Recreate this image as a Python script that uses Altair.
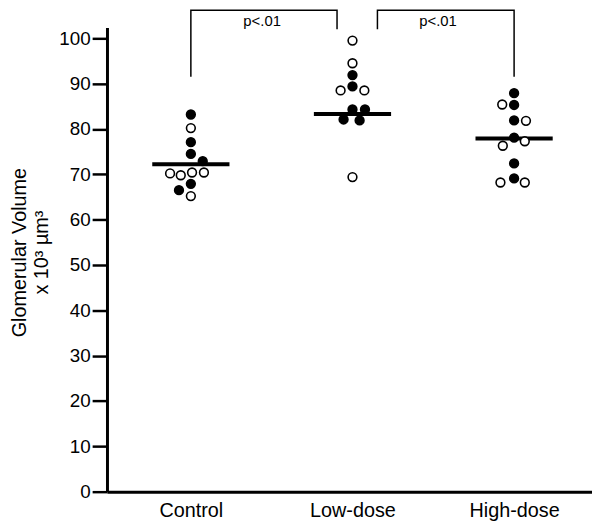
import altair as alt
import pandas as pd
import json

groups = ["Control", "Low-dose", "High-dose"]

control_vals = [83.2, 80.2, 77.1, 74.5, 72.9, 70.2, 69.8, 70.4, 70.4, 67.9, 66.5, 65.2]
control_kind = ["filled", "open", "filled", "filled", "filled", "open", "open", "open", "open", "filled", "filled", "open"]
control_slot = [0, 0, 0, 0, 1.0, -1.75, -0.85, 0.1, 1.1, 0, -1.0, 0]

low_vals = [99.5, 94.5, 91.9, 89.4, 88.5, 88.5, 84.3, 84.3, 82.1, 81.9, 69.4]
low_kind = ["open", "open", "filled", "filled", "open", "open", "filled", "filled", "filled", "filled", "open"]
low_slot = [0, 0, 0, 0, -1.0, 1.0, 0, 1.05, -0.75, 0.6, 0]

high_vals = [87.9, 85.4, 85.3, 81.9, 81.8, 78.1, 77.3, 76.3, 72.4, 69.1, 68.2, 68.2]
high_kind = ["filled", "open", "filled", "filled", "open", "filled", "open", "open", "filled", "filled", "open", "open"]
high_slot = [0, -1.0, 0, 0, 1.0, 0, 0.9, -0.95, 0, 0, -1.15, 0.9]

group_line = [72.2, 83.3, 77.9]

bracket_id = ["a", "a", "a", "a", "b", "b", "b", "b"]
bracket_group = ["Control", "Control", "Low-dose", "Low-dose", "Low-dose", "Low-dose", "High-dose", "High-dose"]
bracket_slot = [0, 0, -1.3, -1.3, 2.1, 2.1, 0, 0]
bracket_value = [91.5, 106.2, 106.2, 102.0, 102.0, 106.2, 106.2, 91.5]
bracket_order = [0, 1, 2, 3, 0, 1, 2, 3]

p_text = ["p<.01", "p<.01"]
p_group = ["Control", "Low-dose"]
p_slot = [6.0, 7.2]
p_value = [103.8, 103.8]

y_ticks = list(range(0, 101, 10))

FONT = "Liberation Sans"
SLOT_W = 0.0735      # one dot width, in category units
LINE_HALF = 3.25     # half length of the group line, in dot widths

points = pd.DataFrame({
    "group": ["Control"] * len(control_vals) + ["Low-dose"] * len(low_vals) + ["High-dose"] * len(high_vals),
    "value": control_vals + low_vals + high_vals,
    "kind": control_kind + low_kind + high_kind,
    "slot": control_slot + low_slot + high_slot,
})
lines = pd.DataFrame({"group": groups, "value": group_line, "slot": [-LINE_HALF] * len(groups)})
brackets = pd.DataFrame({"id": bracket_id, "group": bracket_group, "slot": bracket_slot,
                         "value": bracket_value, "ord": bracket_order})
ptxt = pd.DataFrame({"label": p_text, "group": p_group, "slot": p_slot, "value": p_value})

groups_js = json.dumps(groups)
pos_expr = f"indexof({groups_js}, datum.group) + datum.slot * {SLOT_W}"
pos2_expr = f"indexof({groups_js}, datum.group) - datum.slot * {SLOT_W}"

x_scale = alt.Scale(domain=[-0.519, 2.482], nice=False, zero=False)
y_scale = alt.Scale(domain=[0, 102.4], nice=False, zero=False)

x_enc = alt.X("xpos:Q", scale=x_scale,
              axis=alt.Axis(title=None, values=[0, 1, 2], labelExpr=f"{groups_js}[datum.value]",
                            labelAngle=0, labelFontSize=20, ticks=False, grid=False,
                            domain=True, domainColor="black", domainWidth=3,
                            labelPadding=9, labelColor="black", labelFont=FONT, labelFlush=False,
                            labelOverlap=False))
y_enc = alt.Y("value:Q", scale=y_scale,
              axis=alt.Axis(values=y_ticks, grid=False, domain=True, domainColor="black", domainWidth=3,
                            tickSize=15, tickWidth=2.5,
                            tickColor="black", labelFontSize=19, labelColor="black", labelFont=FONT,
                            labelPadding=2, labelFlush=False,
                            title=["Glomerular Volume", "x 10³ µm³"], titleFont=FONT, titleFontSize=20,
                            titleFontWeight="normal", titleColor="black", titleAngle=-90,
                            titleAlign="center", titleBaseline="alphabetic", titleLineHeight=22,
                            titleX=-82, titleY=227))


def base(df):
    return alt.Chart(df).transform_calculate(xpos=pos_expr)


line_layer = base(lines).transform_calculate(xpos2=pos2_expr).mark_rule(
    color="black", strokeWidth=4).encode(x=x_enc, x2="xpos2:Q", y=y_enc)

pt_layer = base(points).mark_point(shape="circle", filled=True, stroke="black", strokeWidth=1.6,
                                   size=78, opacity=1).encode(
    x=x_enc, y=y_enc,
    fill=alt.Fill("kind:N", scale=alt.Scale(domain=["filled", "open"], range=["black", "white"]), legend=None),
)

br_layer = base(brackets).mark_line(color="black", strokeWidth=1.5).encode(
    x=x_enc, y=y_enc, detail="id:N", order="ord:Q")

tx_layer = base(ptxt).mark_text(font=FONT, fontSize=15, color="black", baseline="middle", align="center").encode(
    x=x_enc, y=y_enc, text="label:N")

chart = alt.layer(line_layer, br_layer, tx_layer, pt_layer).properties(
    width=490, height=469,
    autosize=alt.AutoSizeParams(type="none"),
    padding={"left": 100, "top": 17, "right": 0, "bottom": 28},
    background="white",
).configure_view(stroke=None)

chart.save("out.html", embed_options={"renderer": "svg", "actions": False})
